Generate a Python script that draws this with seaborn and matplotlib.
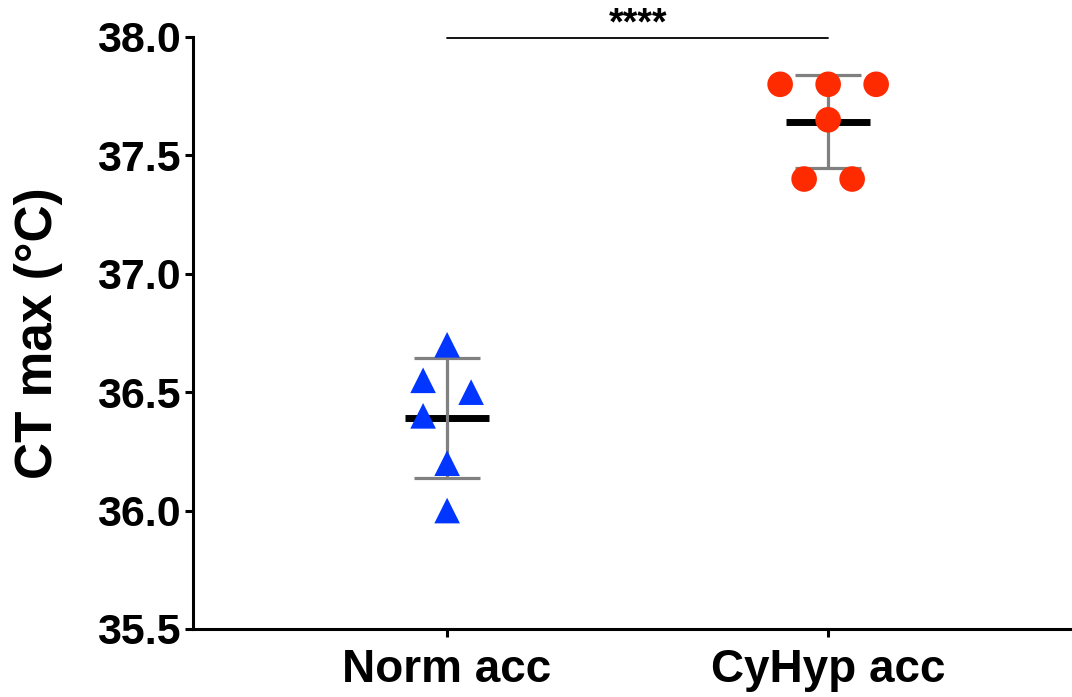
import matplotlib
matplotlib.use("Agg")
import matplotlib.pyplot as plt
import numpy as np
import pandas as pd
import seaborn as sns

# values (CT max, deg C)
groups = ["Norm acc", "CyHyp acc"]
norm_acc = [36.7, 36.55, 36.5, 36.4, 36.2, 36.0]
cyhyp_acc = [37.8, 37.8, 37.8, 37.65, 37.4, 37.4]
y_ticks = [35.5, 36.0, 36.5, 37.0, 37.5, 38.0]
sig_label = "****"

# horizontal scatter of the points around each group centre (layout only)
norm_offsets = [0.0, -0.063, 0.063, -0.063, 0.0, 0.0]
cyhyp_offsets = [-0.126, 0.0, 0.126, 0.0, -0.063, 0.063]

df = pd.DataFrame({
    "group": [groups[0]] * len(norm_acc) + [groups[1]] * len(cyhyp_acc),
    "ctmax": norm_acc + cyhyp_acc,
    "offset": norm_offsets + cyhyp_offsets,
})
df["xpos"] = df["group"].map({g: i for i, g in enumerate(groups)}) + df["offset"]

stats = df.groupby("group", sort=False)["ctmax"].agg(["mean", "std"]).reindex(groups)

sns.set_theme(style="ticks")
plt.rcParams["font.family"] = ["Liberation Sans", "DejaVu Sans"]
plt.rcParams["font.weight"] = "bold"
for key in ["text.color", "axes.labelcolor", "xtick.color", "ytick.color"]:
    plt.rcParams[key] = "black"

fig = plt.figure(figsize=(10.72, 6.97), dpi=100)
ax = fig.add_axes([0.18, 0.0976, 0.82, 0.8494])

# SD error bars (grey) and mean line (black)
xs = np.arange(len(groups))
ax.errorbar(xs, stats["mean"], yerr=stats["std"], fmt="none", ecolor="#808080",
            elinewidth=2.3, capsize=24, capthick=2.3, zorder=2)
ax.hlines(stats["mean"], xs - 0.11, xs + 0.11, colors="black", linewidth=5, zorder=1)

palette = {"Norm acc": "#0036FF", "CyHyp acc": "#FF2B00"}
markers = {"Norm acc": "^", "CyHyp acc": "o"}
sns.scatterplot(data=df, x="xpos", y="ctmax", hue="group", style="group",
                palette=palette, markers=markers, s=340, linewidth=0,
                legend=False, ax=ax, zorder=3, clip_on=False)

# significance bar
ax.plot([0, 1], [37.995, 37.995], color="black", linewidth=1.3, clip_on=False, zorder=4)
ax.text(0.5, 38.01, sig_label, ha="center", va="baseline", fontsize=27,
        fontweight="bold", clip_on=False)

ax.set_xlim(-0.667, 1.64)
ax.set_ylim(35.5, 38.0)
ax.set_xticks(xs)
ax.set_xticklabels(groups)
ax.set_yticks(y_ticks)
ax.set_yticklabels([f"{t:.1f}" for t in y_ticks])
ax.set_xlabel("")
ax.set_ylabel("CT max (°C)", fontsize=37, fontweight="bold", labelpad=24)

ax.tick_params(axis="y", labelsize=31, width=2.2, length=6, pad=3, color="black")
ax.tick_params(axis="x", labelsize=33, width=2.2, length=6, pad=8, color="black")
for lab in ax.get_xticklabels() + ax.get_yticklabels():
    lab.set_fontweight("bold")

for side in ["top", "right"]:
    ax.spines[side].set_visible(False)
for side in ["left", "bottom"]:
    ax.spines[side].set_linewidth(2.2)
    ax.spines[side].set_color("black")

fig.savefig("out.png", dpi=100)
